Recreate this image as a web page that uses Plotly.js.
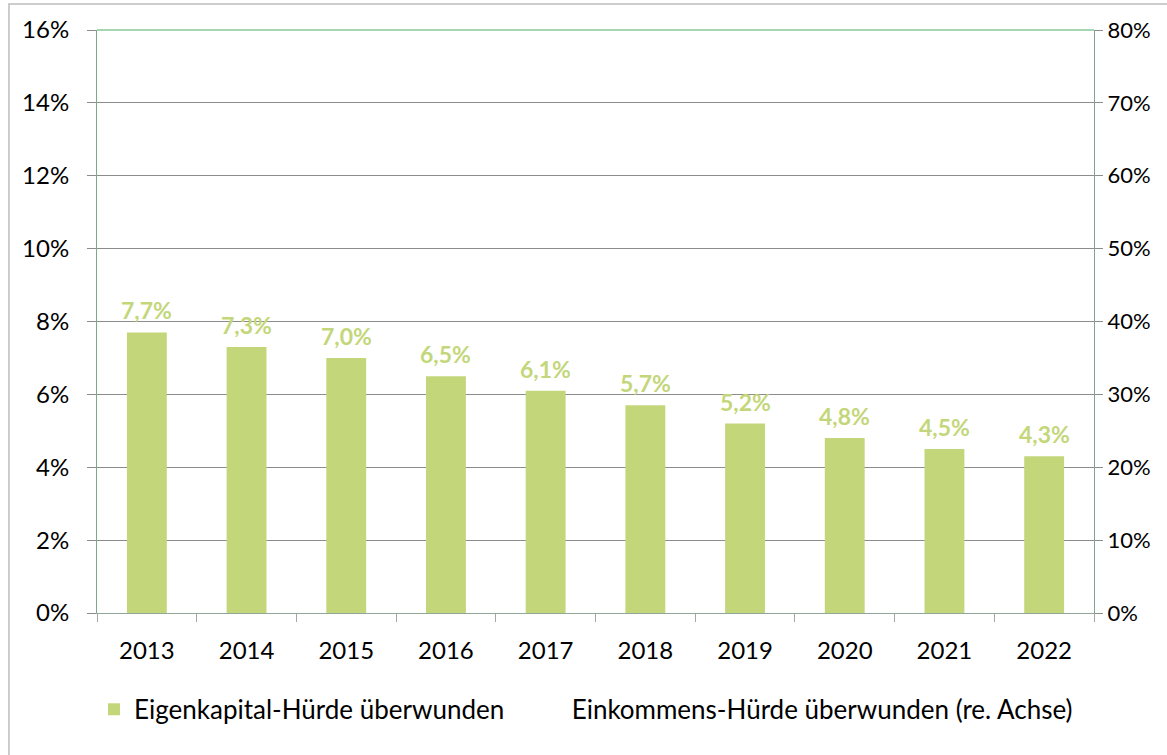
<!DOCTYPE html>
<html>
<head>
<meta charset="utf-8">
<script src="https://cdn.plot.ly/plotly-3.0.1.min.js"></script>
<style>
html,body{margin:0;padding:0;background:#fff;overflow:hidden;}
#chart{width:1167px;height:755px;}
</style>
</head>
<body>
<div id="chart"></div>
<script>
const years = ['2013','2014','2015','2016','2017','2018','2019','2020','2021','2022'];
const eigenkapital = [7.7, 7.3, 7.0, 6.5, 6.1, 5.7, 5.2, 4.8, 4.5, 4.3];
const einkommen = [null, null, null, null, null, null, null, null, null, null];
const leftTicks = [0, 2, 4, 6, 8, 10, 12, 14, 16];
const rightTicks = [0, 10, 20, 30, 40, 50, 60, 70, 80];

const green = '#C3D77A';
const font = 'Lato, Carlito, "Open Sans", sans-serif';

const traces = [
  {
    type: 'bar',
    name: 'Eigenkapital-Hürde überwunden',
    x: years,
    y: eigenkapital,
    marker: {color: green},
    legend: 'legend',
    hoverinfo: 'x+y'
  },
  {
    type: 'scatter',
    mode: 'lines',
    name: 'Einkommens-Hürde überwunden (re. Achse)',
    x: years,
    y: einkommen,
    yaxis: 'y2',
    legend: 'legend2',
    line: {color: 'rgba(0,0,0,0)', width: 2},
    showlegend: true
  }
];

const annotations = years.map((yr, i) => ({
  x: i,
  y: eigenkapital[i],
  xref: 'x',
  yref: 'y',
  text: eigenkapital[i].toFixed(1).replace('.', ',') + '%',
  showarrow: false,
  yanchor: 'bottom',
  yshift: 6,
  font: {family: font, size: 23, color: green, weight: 'bold'}
}));

const legendFont = {family: font, size: 26, color: '#000'};

const layout = {
  width: 1167,
  height: 755,
  margin: {l: 97, r: 73, t: 30, b: 142},
  paper_bgcolor: '#fff',
  plot_bgcolor: '#fff',
  separators: ',.',
  font: {family: font, size: 24, color: '#000'},
  bargap: 0.6,
  showlegend: true,
  legend: {
    orientation: 'h',
    x: -0.003, xanchor: 'left',
    y: -0.125, yanchor: 'top',
    font: legendFont,
    itemwidth: 30
  },
  legend2: {
    orientation: 'h',
    x: 0.436, xanchor: 'left',
    y: -0.125, yanchor: 'top',
    font: legendFont,
    itemwidth: 30
  },
  xaxis: {
    type: 'category',
    categoryorder: 'array',
    categoryarray: years,
    range: [-0.5, years.length - 0.5],
    showgrid: false,
    showline: true,
    linecolor: '#8fa89a',
    linewidth: 1,
    ticks: 'outside',
    tickson: 'boundaries',
    ticklen: 8,
    tickcolor: '#a6a6a6',
    tickangle: 0,
    tickfont: {family: font, size: 24, color: '#000'},
    ticklabelstandoff: 16,
    fixedrange: true
  },
  yaxis: {
    range: [0, 16],
    tickvals: leftTicks,
    ticktext: leftTicks.map(v => v + '%'),
    showgrid: true,
    gridcolor: '#8c8c8c',
    gridwidth: 1,
    zeroline: false,
    showline: true,
    linecolor: '#7da68f',
    linewidth: 1,
    ticks: 'outside',
    ticklen: 9,
    tickcolor: '#8c8c8c',
    tickfont: {family: font, size: 24, color: '#000'},
    ticklabelstandoff: 13,
    fixedrange: true
  },
  yaxis2: {
    overlaying: 'y',
    side: 'right',
    range: [0, 80],
    tickvals: rightTicks,
    ticktext: rightTicks.map(v => v + '%'),
    showgrid: false,
    zeroline: false,
    showline: true,
    linecolor: '#7da68f',
    linewidth: 1,
    ticks: 'outside',
    ticklen: 8,
    tickcolor: '#8c8c8c',
    tickfont: {family: font, size: 22, color: '#000'},
    fixedrange: true
  },
  annotations: annotations,
  shapes: [
    {type: 'line', xref: 'paper', yref: 'paper', x0: 0, x1: 1, y0: 1, y1: 1,
     line: {color: '#4cae6a', width: 1.2}, layer: 'above'},
    {type: 'rect', xref: 'paper', yref: 'paper', x0: -0.0883, x1: 1.2, y0: -0.5, y1: 1.0446,
     line: {color: '#bdbdbd', width: 1.5}, layer: 'below'}
  ]
};

Plotly.newPlot('chart', traces, layout, {displayModeBar: false});
</script>
</body>
</html>
